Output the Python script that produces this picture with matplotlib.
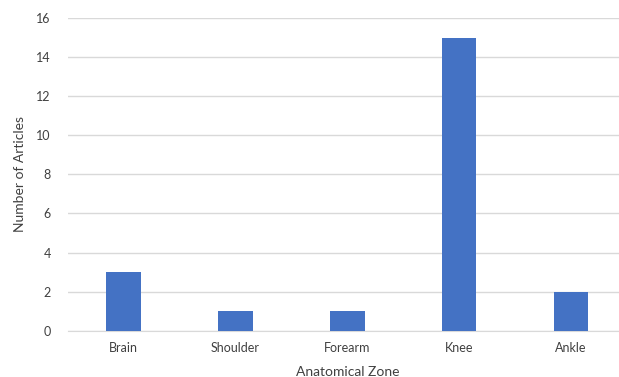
import matplotlib
matplotlib.use("Agg")
import matplotlib.pyplot as plt

categories = ["Brain", "Shoulder", "Forearm", "Knee", "Ankle"]
values = [3, 1, 1, 15, 2]
yticks = [0, 2, 4, 6, 8, 10, 12, 14, 16]

plt.rcParams['font.family'] = ['Lato', 'DejaVu Sans']

fig = plt.figure(figsize=(6.19, 3.77), dpi=100)
ax = fig.add_axes([67.5/619, (377-330.7)/377, (627-67.5)/619, (330.7-18)/377])
x = list(range(len(categories)))
ax.bar(x, values, width=0.31, color="#4472C4", zorder=3)
ax.set_xlim(-0.5, len(categories) - 0.5)
ax.set_ylim(0, 16)
ax.set_yticks(yticks)
ax.set_xticks(x)
ax.set_xticklabels(categories)
ax.grid(axis='y', color="#D9D9D9", linewidth=1, zorder=0)
for s in ['top', 'right', 'left']:
    ax.spines[s].set_visible(False)
ax.spines['bottom'].set_color("#D9D9D9")
ax.tick_params(axis='both', length=0, labelsize=9, colors="#404040", pad=8)
ax.tick_params(axis='y', pad=12)
ax.set_xlabel("Anatomical Zone", fontsize=10, color="#404040", labelpad=9)
ax.set_ylabel("Number of Articles", fontsize=10, color="#404040", labelpad=7)
fig.savefig("out.png", dpi=100)
